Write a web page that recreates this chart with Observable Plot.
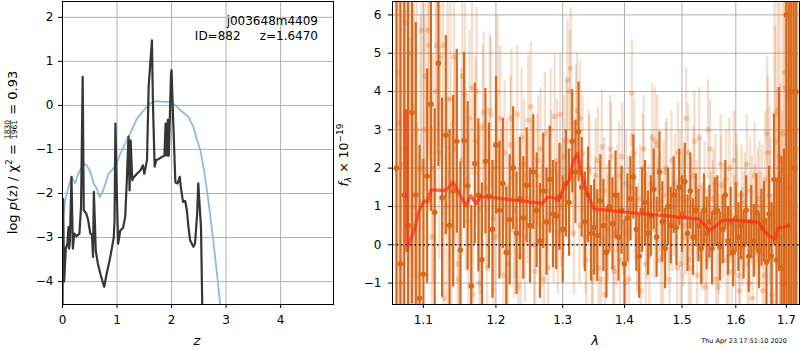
<!DOCTYPE html>
<html>
<head>
<meta charset="utf-8">
<script src="https://cdn.jsdelivr.net/npm/d3@7"></script>
<script src="https://cdn.jsdelivr.net/npm/@observablehq/plot@0.6"></script>
<style>
  html, body { margin: 0; padding: 0; background: white; }
  #wrap { position: relative; width: 800px; height: 350px; overflow: hidden; font-family: "DejaVu Sans", sans-serif; }
  #wrap > svg, #wrap > div { position: absolute; top: 0; }
</style>
</head>
<body>
<div id="wrap"></div>
<script>
// ---------------- Left panel data: log p(z) ----------------
const zDark = [0.0,0.01,0.03,0.06,0.09,0.11,0.12,0.135,0.165,0.19,0.215,0.26,0.31,0.34,0.37,0.39,0.435,0.47,0.51,0.54,0.56,0.575,0.59,0.61,0.65,0.70,0.765,0.81,0.875,0.94,0.955,0.97,1.0,1.02,1.06,1.11,1.15,1.18,1.21,1.23,1.25,1.28,1.30,1.365,1.43,1.475,1.50,1.55,1.58,1.64,1.66,1.69,1.72,1.76,1.82,1.87,1.89,1.91,1.93,1.95,1.99,2.0,2.03,2.07,2.11,2.15,2.17,2.21,2.25,2.28,2.31,2.34,2.40,2.43,2.47,2.49,2.52,2.54,2.565];
const pDark = [-4.6,-2.12,-4.0,-3.25,-3.14,-2.76,-3.25,-3.1,-1.62,-3.25,-2.91,-2.97,-2.91,-2.30,0.65,-2.38,-2.45,-2.6,-2.91,-2.93,-3.44,-1.96,-2.5,-3.3,-3.6,-3.85,-4.12,-3.82,-3.45,-3.0,-2.6,-0.41,-2.15,-3.14,-2.84,-2.78,-2.53,-1.70,-0.71,-1.93,-0.79,-1.70,-1.64,-1.55,-1.47,-1.36,-1.55,-1.24,0.42,1.48,-0.03,-1.39,-1.24,-1.22,-1.17,-1.14,-0.41,-1.14,-0.33,-1.14,0.73,0.80,-0.33,-1.75,-1.77,-1.62,-1.85,-2.19,-2.17,-2.38,-2.76,-3.06,-3.21,-3.14,-2.45,-1.77,-2.38,-2.76,-4.7];
const zBlue = [0.0,0.05,0.11,0.17,0.23,0.29,0.385,0.44,0.51,0.57,0.63,0.68,0.75,0.845,0.935,1.0,1.05,1.12,1.24,1.365,1.49,1.61,1.73,1.85,1.98,2.10,2.16,2.31,2.40,2.47,2.53,2.60,2.68,2.76,2.84,2.90];
const pBlue = [-2.68,-2.15,-1.85,-1.62,-1.77,-1.55,-1.32,-1.36,-1.5,-1.77,-1.89,-2.08,-1.92,-1.55,-1.43,-1.3,-1.13,-0.94,-0.64,-0.30,-0.11,0.05,0.10,0.08,0.08,-0.03,-0.11,-0.26,-0.49,-0.8,-1.02,-1.5,-2.2,-3.0,-3.9,-4.6];
const zTicks = [0,1,2,3,4];
const pTicks = [-4,-3,-2,-1,0,1,2];

// ---------------- Right panel data: spectrum ----------------
const lamD = [1.065,1.070,1.075,1.080,1.085,1.090,1.095,
  1.100,1.105,1.110,1.115,1.120,1.125,1.130,1.135,1.140,1.145,1.150,1.155,1.160,1.165,1.170,1.175,1.180,1.185,1.190,1.195,1.200,
  1.205,1.210,1.215,1.220,1.225,1.230,1.235,1.240,1.245,1.250,1.255,1.260,1.265,1.270,1.275,1.280,1.285,1.290,1.295,1.300,
  1.305,1.310,1.315,1.320,1.325,1.330,1.335,1.340,1.345,1.350,
  1.355,1.360,1.365,1.370,1.375,1.380,1.385,1.390,1.395,1.400,1.405,1.410,1.415,1.420,1.425,1.430,1.435,1.440,1.445,1.450,1.455,1.460,1.465,1.470,1.475,1.480,1.485,1.490,1.495,1.500,
  1.505,1.510,1.515,1.520,1.525,1.530,1.535,1.540,1.545,1.550,1.555,1.560,1.565,1.570,1.575,1.580,1.585,1.590,1.595,1.600,1.605,1.610,1.615,1.620,1.625,1.630,1.635,1.640,1.645,1.650,
  1.655,1.660,1.665,1.670,1.675,1.680,1.685,1.690,1.695,
  1.700,1.705,1.710,1.715,1.720];
const fluxD = [2.0,-0.5,1.3,0.5,3.45,1.3,-1.4,
  -0.77,1.79,3.67,0.85,4.74,1.23,2.86,0.5,1.4,2.70,-0.14,2.72,1.54,-1.08,2.12,1.29,-0.39,2.18,1.28,0.4,2.6,
  0.9,1.6,-0.2,0.65,2.0,0.3,1.2,0.7,1.55,0.5,1.9,0.9,0.1,1.4,0.6,1.7,0.8,0.75,1.25,0.4,
  1.6,1.1,2.7,1.9,2.95,1.5,0.6,1.3,0.3,0.45,
  0.24,1.15,0.5,-0.2,1.0,0.55,1.3,0.2,0.9,-0.5,0.7,1.2,1.77,0.4,-0.3,0.9,1.1,0.3,0.75,1.45,0.2,1.9,0.6,-0.1,1.0,0.5,1.3,0.45,1.5,0.8,
  1.65,0.3,1.4,0.2,0.9,0.5,-0.1,0.9,0.3,0.6,-0.1,0.85,0.9,-0.05,0.4,1.3,0.1,0.6,-0.2,0.7,0.2,0.5,0.0,0.9,-0.3,0.6,0.1,0.85,-0.15,0.45,
  0.6,-0.45,0.8,-0.3,1.7,-0.4,1.7,-0.6,-1.0,
  6.0,0.5,4.0,2.0,4.0];
const errD = [9,8,7,6,5,4.5,4,
  3.0,2.8,2.8,2.7,2.7,2.6,2.6,2.5,2.5,2.4,2.3,2.3,2.2,2.1,2.1,2.0,2.0,1.9,1.9,1.8,1.8,
  1.8,1.7,1.7,1.7,1.6,1.6,1.6,1.6,1.5,1.5,1.5,1.5,1.5,1.5,1.4,1.4,1.4,1.4,1.4,1.4,
  1.4,1.4,1.35,1.35,1.3,1.3,1.3,1.25,1.25,1.25,
  1.2,1.2,1.2,1.2,1.2,1.2,1.15,1.15,1.15,1.15,1.15,1.1,1.1,1.1,1.1,1.1,1.1,1.1,1.05,1.05,1.05,1.05,1.05,1.05,1.0,1.0,1.0,1.0,1.0,1.0,
  1.0,1.0,1.0,1.0,0.95,0.95,0.95,0.95,0.95,0.95,0.95,0.9,0.9,0.9,0.9,0.9,0.9,0.9,0.9,0.9,0.9,0.9,0.9,0.9,0.95,0.95,0.95,1.0,1.0,1.0,
  1.05,1.15,1.25,1.4,1.7,2.1,2.4,2.9,3.5,
  8,9,9,10,10];
const lamL = [1.0675,1.0725,1.0775,1.0825,1.0875,1.0925,1.0975,
  1.1025,1.1075,1.1125,1.1175,1.1225,1.1275,1.1325,1.1375,1.1425,1.1475,1.1525,1.1575,1.1625,1.1675,1.1725,1.1775,1.1825,1.1875,1.1925,1.1975,
  1.2025,1.2075,1.2125,1.2175,1.2225,1.2275,1.2325,1.2375,1.2425,1.2475,1.2525,1.2575,1.2625,1.2675,1.2725,1.2775,1.2825,1.2875,1.2925,1.2975,
  1.3025,1.3075,1.3125,1.3175,1.3225,1.3275,1.3325,1.3375,1.3425,1.3475,
  1.3525,1.3575,1.3625,1.3675,1.3725,1.3775,1.3825,1.3875,1.3925,1.3975,1.4025,1.4075,1.4125,1.4175,1.4225,1.4275,1.4325,1.4375,1.4425,1.4475,1.4525,1.4575,1.4625,1.4675,1.4725,1.4775,1.4825,1.4875,1.4925,1.4975,
  1.5025,1.5075,1.5125,1.5175,1.5225,1.5275,1.5325,1.5375,1.5425,1.5475,1.5525,1.5575,1.5625,1.5675,1.5725,1.5775,1.5825,1.5875,1.5925,1.5975,1.6025,1.6075,1.6125,1.6175,1.6225,1.6275,1.6325,1.6375,1.6425,1.6475,
  1.6525,1.6575,1.6625,1.6675,1.6725,1.6775,1.6825,1.6875,1.6925,1.6975,1.7025,1.7075,1.7125,1.7175,1.7225];
const fluxL = [3.2,2.1,5.8,0.4,3.6,-0.8,5.6,
  4.4,5.2,2.0,5.2,4.9,-1.4,3.8,0.6,2.5,-0.9,4.4,1.7,3.3,-1.3,4.0,0.9,3.45,-0.6,3.4,0.2,
  4.0,1.1,2.4,-0.5,3.3,0.9,-1.1,2.8,0.2,3.25,1.6,-0.7,2.2,0.5,2.9,-0.6,1.9,3.35,0.3,1.0,
  2.3,4.3,4.6,0.3,3.5,3.3,0.9,-0.4,1.9,-0.9,
  1.8,-0.6,2.55,-1.3,0.4,2.3,-0.7,1.2,-0.4,0.6,1.6,-0.9,3.95,1.0,0.2,-1.2,2.5,0.5,-0.3,2.8,2.7,0.9,-0.4,1.3,2.0,-0.9,0.6,1.6,2.4,-0.5,
  0.2,3.3,-0.4,1.0,2.7,-0.8,1.5,0.3,-1.1,3.0,0.6,1.2,-0.9,0.0,1.55,0.8,-0.4,2.0,-0.7,0.5,1.3,-1.2,0.2,1.1,-0.5,1.4,-1.4,0.7,1.0,0.4,
  -1.2,1.7,2.4,0.5,-1.5,2.7,3.5,0.2,2.9,4.1,3.9,1.0,2.0,-0.5,3.0];
const errL = [8,7,6,5,4.5,4,3.8,
  3,3,3,2.8,2.8,2.8,2.6,2.6,2.5,2.5,2.4,2.4,2.3,2.3,2.2,2.2,2.1,2.1,2.0,2.0,
  2.0,1.9,1.9,1.9,1.8,1.8,1.8,1.8,1.7,1.7,1.7,1.7,1.7,1.6,1.6,1.6,1.6,1.6,1.6,1.6,
  1.6,1.6,1.6,1.6,1.5,1.5,1.5,1.5,1.5,1.5,
  1.5,1.5,1.5,1.5,1.4,1.4,1.4,1.4,1.4,1.4,1.4,1.4,1.4,1.4,1.4,1.4,1.4,1.4,1.4,1.4,1.4,1.4,1.4,1.4,1.3,1.3,1.3,1.3,1.3,1.3,
  1.3,1.3,1.3,1.3,1.3,1.3,1.3,1.3,1.3,1.3,1.3,1.3,1.3,1.3,1.3,1.3,1.3,1.3,1.3,1.3,1.3,1.3,1.3,1.3,1.3,1.4,1.4,1.4,1.5,1.5,
  1.6,1.8,2.0,2.3,2.6,3.0,3.5,4.0,4.5,5.0,5.5,6.0,7.0,8.0,9.0];
const lamL2 = [1.0662,1.0712,1.0762,1.0812,1.0862,1.0912,1.0962,
  1.1012,1.1062,1.1112,1.1162,1.1212,1.1262,1.1312,1.1362,1.1412,1.1462,1.1512,1.1562,1.1612,1.1662,1.1712,1.1762,1.1812,1.1862,1.1912,1.1962,
  1.2012,1.2062,1.2112,1.2162,1.2212,1.2262,1.2312,1.2362,1.2412,1.2462,1.2512,1.2562,1.2612,1.2662,1.2712,1.2762,1.2812,1.2862,1.2912,1.2962,
  1.3012,1.3062,1.3112,1.3162,1.3212,1.3262,1.3312,1.3362,1.3412,1.3462,
  1.3512,1.3562,1.3612,1.3662,1.3712,1.3762,1.3812,1.3862,1.3912,1.3962,1.4012,1.4062,1.4112,1.4162,1.4212,1.4262,1.4312,1.4362,1.4412,1.4462,1.4512,1.4562,1.4612,1.4662,1.4712,1.4762,1.4812,1.4862,1.4912,1.4962,
  1.5012,1.5062,1.5112,1.5162,1.5212,1.5262,1.5312,1.5362,1.5412,1.5462,1.5512,1.5562,1.5612,1.5662,1.5712,1.5762,1.5812,1.5862,1.5912,1.5962,1.6012,1.6062,1.6112,1.6162,1.6212,1.6262,1.6312,1.6362,1.6412,1.6462,
  1.6512,1.6562,1.6612,1.6662,1.6712,1.6762,1.6812,1.6862,1.6912,1.6962,1.7012,1.7062,1.7112,1.7162,1.7212];
const fluxL2 = [4.5,-1.0,2.5,5.0,1.0,3.0,2.0,
  3.0,5.6,0.2,4.0,2.4,5.2,1.0,3.8,4.9,-0.5,2.2,3.9,0.6,4.1,2.7,-1.0,3.1,1.5,3.5,0.7,
  2.0,3.3,-0.8,1.5,2.6,0.4,3.4,-0.3,2.1,1.2,3.6,0.0,1.8,2.5,-0.9,1.4,3.0,0.6,2.2,3.4,
  1.2,2.7,4.0,1.7,3.2,0.5,2.4,0.2,2.0,-0.7,
  0.9,2.2,-0.9,1.4,0.7,2.5,-0.6,0.3,1.8,2.3,-1.0,0.9,1.5,2.4,0.1,1.2,2.0,-0.5,0.8,1.6,0.4,2.6,1.1,-0.3,1.9,0.6,2.2,1.0,-0.6,1.7,
  1.2,0.5,2.4,-0.6,1.8,0.9,2.8,0.1,1.4,-0.4,2.5,0.9,1.6,-1.1,2.1,0.4,1.7,-0.3,0.8,2.2,1.6,-0.8,1.3,0.6,2.1,-1.0,0.9,1.8,-0.2,1.2,
  1.0,-0.8,2.9,1.3,-1.3,3.4,0.6,2.3,-1.0,4.5,1.5,3.0,5.0,0.8,2.5];
const errL2 = [8,7,6,5.5,5,4.5,4,
  3.0,3.0,2.9,2.8,2.8,2.7,2.6,2.6,2.5,2.5,2.4,2.4,2.3,2.3,2.2,2.2,2.1,2.1,2.0,2.0,
  1.9,1.9,1.9,1.8,1.8,1.8,1.8,1.7,1.7,1.7,1.7,1.7,1.6,1.6,1.6,1.6,1.6,1.6,1.6,1.6,
  1.6,1.6,1.6,1.5,1.5,1.5,1.5,1.5,1.5,1.5,
  1.4,1.4,1.4,1.4,1.4,1.4,1.4,1.4,1.4,1.4,1.4,1.4,1.4,1.4,1.4,1.4,1.4,1.4,1.3,1.3,1.3,1.3,1.3,1.3,1.3,1.3,1.3,1.3,1.3,1.3,
  1.3,1.3,1.3,1.3,1.3,1.3,1.3,1.3,1.3,1.3,1.3,1.3,1.3,1.3,1.3,1.3,1.3,1.3,1.3,1.3,1.3,1.3,1.3,1.3,1.3,1.4,1.4,1.4,1.5,1.5,
  1.6,1.8,2.0,2.3,2.6,3.0,3.5,4.0,4.5,5.0,5.5,6.0,7.0,8.0,9.0];
const lamModel = [1.0770,1.0785,1.0794,1.0879,1.0945,1.1011,1.1055,1.1099,1.1277,1.1345,1.1392,1.1460,1.1574,1.1644,1.1714,1.1784,1.1974,1.2688,1.2764,1.2841,1.2933,1.3020,1.3099,1.3168,1.3231,1.3294,1.3390,1.3497,1.3990,1.4677,1.5305,1.5398,1.5490,1.5583,1.5740,1.5835,1.6446,1.6544,1.6644,1.6778,1.6824,1.6945,1.7047];
const fluxModel = [3.5,-0.15,-0.03,0.37,0.89,1.15,1.11,1.43,1.42,1.50,1.64,1.43,1.02,1.28,1.07,1.26,1.23,1.08,1.24,1.24,1.15,1.50,1.68,2.20,2.38,1.86,1.33,0.94,0.85,0.76,0.67,0.54,0.37,0.45,0.63,0.65,0.59,0.37,0.24,0.15,0.43,0.45,0.50];
const lamTicks = [1.1,1.2,1.3,1.4,1.5,1.6,1.7];
const fTicks = [-1,0,1,2,3,4,5,6];

// ---------------- styles ----------------
const FONT = "DejaVu Sans";
const ORANGE = "#d8691c";
const GRID = "#b0b0b0";
const minusFmt = d => (d < 0 ? "\u2212" : "") + Math.abs(d);

const wrap = document.getElementById("wrap");

// Left panel
const left = Plot.plot({
  width: 340, height: 350,
  marginLeft: 62, marginRight: 7, marginTop: 1, marginBottom: 46,
  style: {fontFamily: FONT, fontSize: "12px", color: "black", background: "white", overflow: "visible"},
  x: {domain: [0, 4.97], ticks: zTicks, tickFormat: minusFmt, tickSize: 4, tickPadding: 7, label: null},
  y: {domain: [-4.52, 2.36], ticks: pTicks, tickFormat: minusFmt, tickSize: 4, tickPadding: 5, label: null},
  marks: [
    Plot.ruleX(zTicks, {stroke: GRID, strokeWidth: 1}),
    Plot.ruleY(pTicks, {stroke: GRID, strokeWidth: 1}),
    Plot.line(zBlue.map((z, i) => ({z, p: pBlue[i]})), {x: "z", y: "p", stroke: "#8fbbd9", strokeWidth: 1.8, clip: true}),
    Plot.line(zDark.map((z, i) => ({z, p: pDark[i]})), {x: "z", y: "p", stroke: "#363636", strokeWidth: 2.2, strokeLinejoin: "round", clip: true}),
    Plot.frame({stroke: "black", strokeWidth: 1})
  ]
});
left.style.left = "0px";
wrap.appendChild(left);

// Right panel
const dark = lamD.map((l, i) => ({lam: l, f: fluxD[i], e: errD[i]}));
const light = lamL.map((l, i) => ({lam: l, f: fluxL[i], e: errL[i]}))
  .concat(lamL2.map((l, i) => ({lam: l, f: fluxL2[i], e: errL2[i]})));
const model = lamModel.map((l, i) => ({lam: l, f: fluxModel[i]}));
const right = Plot.plot({
  width: 460, height: 350,
  marginLeft: 52, marginRight: 1, marginTop: 1, marginBottom: 46,
  style: {fontFamily: FONT, fontSize: "12px", color: "black", background: "white", overflow: "visible"},
  x: {type: "log", domain: [1.06, 1.727], ticks: lamTicks, tickFormat: d => d.toFixed(1), tickSize: 4, tickPadding: 7, label: null},
  y: {domain: [-1.56, 6.35], ticks: fTicks, tickFormat: minusFmt, tickSize: 4, tickPadding: 7, label: null},
  marks: [
    Plot.ruleX(lamTicks, {stroke: GRID, strokeWidth: 1}),
    Plot.ruleY(fTicks, {stroke: GRID, strokeWidth: 1}),
    Plot.ruleX(light, {x: "lam", y1: d => d.f - d.e, y2: d => d.f + d.e, stroke: ORANGE, strokeOpacity: 0.22, strokeWidth: 2.3, clip: true}),
    Plot.dot(light, {x: "lam", y: "f", r: 2.8, fill: ORANGE, fillOpacity: 0.28, clip: true}),
    Plot.ruleX(dark, {x: "lam", y1: d => d.f - d.e, y2: d => d.f + d.e, stroke: ORANGE, strokeWidth: 2.2, clip: true}),
    Plot.dot(dark, {x: "lam", y: "f", r: 2.8, fill: ORANGE, clip: true}),
    Plot.line(model, {x: "lam", y: "f", stroke: "#ff2a12", strokeOpacity: 0.7, strokeWidth: 3.2, clip: true}),
    Plot.ruleY([0], {stroke: "#111", strokeWidth: 1.5, strokeDasharray: "1.5,3"}),
    Plot.frame({stroke: "black", strokeWidth: 1})
  ]
});
right.style.left = "340px";
wrap.appendChild(right);

// Overlay texts
const ov = d3.select(wrap).append("svg")
  .attr("width", 800).attr("height", 350)
  .style("position", "absolute").style("left", "0px").style("top", "0px")
  .style("pointer-events", "none")
  .attr("font-family", FONT).attr("font-size", 12);

ov.append("text").attr("x", 318).attr("y", 24.5).attr("text-anchor", "end").text("j003648m4409");
ov.append("text").attr("x", 318).attr("y", 39.5).attr("text-anchor", "end").style("white-space", "pre").text("ID=882     z=1.6470");
ov.append("text").attr("x", 197).attr("y", 345).attr("text-anchor", "middle").attr("font-style", "italic").attr("font-size", 13).text("z");
ov.append("text").attr("x", 595).attr("y", 345).attr("text-anchor", "middle").attr("font-style", "italic").attr("font-size", 13).text("λ");
ov.append("text").attr("x", 787).attr("y", 343).attr("text-anchor", "end").attr("font-size", 6.5).text("Thu Apr 23 17:51:10 2020");

function richLabel(cx, cy, base, parts) {
  const g = ov.append("g").attr("transform", `translate(${cx},${cy}) rotate(-90)`);
  const inner = g.append("g");
  let x = 0;
  for (const p of parts) {
    if (p.frac) {
      const n = inner.append("text").attr("y", p.ny).attr("font-size", p.size).text(p.frac[0]);
      const d = inner.append("text").attr("y", p.dy).attr("font-size", p.size).text(p.frac[1]);
      const wn = n.node().getComputedTextLength(), wd = d.node().getComputedTextLength();
      const w = Math.max(wn, wd);
      n.attr("x", x + 1 + (w - wn) / 2);
      d.attr("x", x + 1 + (w - wd) / 2);
      inner.append("line").attr("x1", x + 1).attr("x2", x + 1 + w).attr("y1", p.by).attr("y2", p.by)
        .attr("stroke", "black").attr("stroke-width", 0.6);
      x += w + 2;
    } else {
      const t = inner.append("text").attr("x", x).attr("y", p.dy || 0)
        .attr("font-size", p.size || base)
        .attr("font-style", p.italic ? "italic" : null)
        .style("white-space", "pre").text(p.t);
      x += t.node().getComputedTextLength();
    }
  }
  inner.attr("transform", `translate(${-x / 2},0)`);
}

richLabel(17, 152.5, 13, [
  {t: "log "}, {t: "p", italic: true}, {t: "(z) / χ"}, {t: "2", size: 9, dy: -5.5},
  {t: " = "}, {frac: ["1830", "1961"], size: 7.5, ny: -7.5, dy: -0.2, by: -6.3}, {t: " = 0.93"}
]);
richLabel(348, 155, 12.5, [
  {t: "f", italic: true}, {t: "λ", italic: true, size: 9, dy: 3}, {t: " × 10"}, {t: "−19", size: 9, dy: -5.5}
]);
</script>
</body>
</html>
